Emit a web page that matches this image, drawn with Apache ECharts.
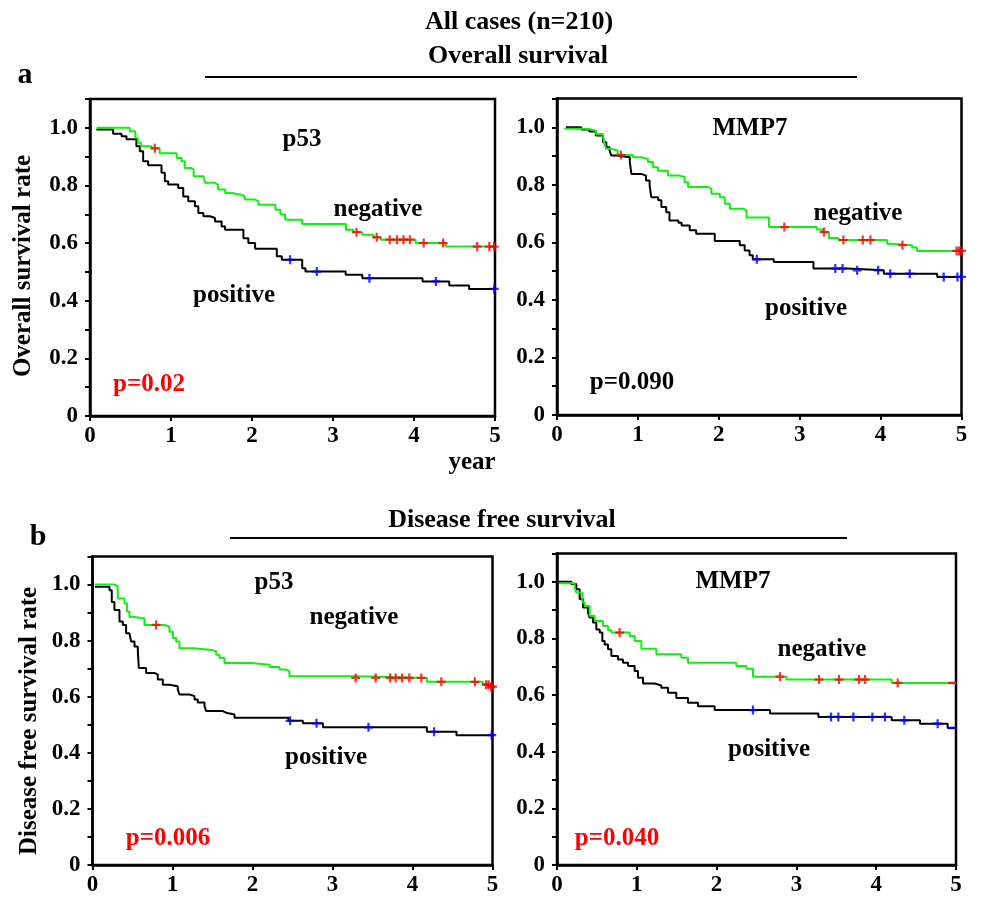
<!DOCTYPE html>
<html><head><meta charset="utf-8">
<script src="https://cdn.jsdelivr.net/npm/echarts@6/dist/echarts.min.js"></script>
<style>html,body{margin:0;padding:0;background:#fff}#c{width:981px;height:897px}</style>
</head><body><div id="c"></div>
<script>
// ---------- DATA (Kaplan-Meier step curves: time in years, survival rate) ----------
// a-left: p53, overall survival
const osP53NegT = [0.08,0.49,0.56,0.59,0.63,0.76,0.86,1.07,1.13,1.17,1.25,1.28,1.40,1.42,1.54,1.58,1.67,1.75,1.87,1.91,2.04,2.08,2.29,2.35,2.41,2.62,3.16,3.25,3.36,3.50,3.59,4.02,4.39,5.00];
const osP53NegS = [1.000,0.988,0.965,0.948,0.936,0.929,0.912,0.895,0.884,0.861,0.855,0.832,0.826,0.809,0.803,0.786,0.774,0.768,0.762,0.751,0.745,0.733,0.716,0.699,0.681,0.666,0.646,0.638,0.629,0.620,0.612,0.600,0.588,0.588];
const osP53PosT = [0.08,0.285,0.39,0.45,0.573,0.615,0.656,0.718,0.883,0.924,0.965,1.089,1.151,1.213,1.295,1.337,1.399,1.481,1.543,1.625,1.667,1.894,1.955,2.038,2.306,2.368,2.62,2.66,3.156,3.362,4.105,4.435,4.68,5.00];
const osP53PosS = [0.994,0.979,0.971,0.960,0.936,0.919,0.884,0.870,0.844,0.815,0.803,0.791,0.762,0.745,0.728,0.704,0.693,0.687,0.675,0.658,0.646,0.617,0.600,0.580,0.554,0.542,0.513,0.501,0.490,0.478,0.467,0.453,0.441,0.441];
const osP53NegCens = [0.80,3.29,3.54,3.70,3.79,3.87,3.95,4.12,4.36,4.78,4.93,4.99];
const osP53PosCens = [2.47,2.80,3.45,4.27,4.99];

// a-right: MMP7, overall survival
const osMmpNegT = [0.09,0.36,0.42,0.48,0.566,0.587,0.608,0.67,0.75,0.938,1.041,1.124,1.186,1.248,1.372,1.516,1.578,1.62,1.867,1.909,2.012,2.074,2.136,2.302,2.343,2.62,3.21,3.28,3.36,3.48,4.08,4.12,4.39,4.45,5.00];
const osMmpNegS = [0.995,0.992,0.988,0.977,0.971,0.942,0.925,0.919,0.904,0.896,0.890,0.879,0.861,0.849,0.832,0.827,0.809,0.792,0.786,0.769,0.757,0.734,0.717,0.711,0.686,0.653,0.645,0.636,0.615,0.608,0.595,0.590,0.582,0.570,0.570];
const osMmpPosT = [0.11,0.30,0.40,0.48,0.57,0.61,0.65,0.67,0.73,0.90,0.92,1.04,1.10,1.145,1.165,1.25,1.29,1.35,1.39,1.50,1.54,1.64,1.72,1.95,2.26,2.32,2.38,2.42,2.68,3.17,3.585,4.04,4.70,5.00];
const osMmpPosS = [1.000,0.992,0.985,0.971,0.948,0.931,0.919,0.902,0.896,0.879,0.838,0.832,0.815,0.798,0.757,0.746,0.723,0.705,0.676,0.668,0.659,0.642,0.630,0.605,0.590,0.572,0.555,0.541,0.532,0.509,0.503,0.491,0.480,0.480];
const osMmpNegCens = [0.79,2.81,3.30,3.54,3.78,3.875,4.27,4.94,4.97,5.00];
const osMmpPosCens = [2.47,3.44,3.53,3.71,3.97,4.12,4.36,4.78,4.95,5.00];

// b-left: p53, disease free survival
const dfsP53NegT = [0.03,0.275,0.316,0.40,0.433,0.462,0.504,0.65,0.90,0.962,1.004,1.045,1.087,1.254,1.483,1.545,1.587,1.65,1.983,2.212,2.337,2.42,2.462,3.29,4.18,4.88,4.96,5.00];
const dfsP53NegS = [1.000,0.994,0.950,0.933,0.903,0.885,0.879,0.856,0.850,0.832,0.809,0.797,0.773,0.767,0.762,0.750,0.738,0.720,0.714,0.706,0.697,0.691,0.673,0.667,0.653,0.643,0.636,0.636];
const dfsP53PosT = [0.03,0.212,0.241,0.274,0.337,0.379,0.42,0.462,0.483,0.525,0.566,0.579,0.67,0.775,0.816,0.879,0.962,1.066,1.087,1.212,1.275,1.316,1.40,1.42,1.629,1.67,1.775,2.45,2.63,2.88,4.18,4.55,5.00];
const dfsP53PosS = [0.992,0.980,0.938,0.909,0.868,0.856,0.826,0.820,0.797,0.779,0.767,0.702,0.685,0.679,0.661,0.643,0.637,0.626,0.608,0.602,0.590,0.579,0.567,0.549,0.543,0.537,0.525,0.514,0.505,0.491,0.475,0.463,0.463];
const dfsP53NegCens = [0.795,3.29,3.54,3.72,3.79,3.87,3.96,4.11,4.36,4.78,4.92,4.95,4.98,5.00];
const dfsP53PosCens = [2.47,2.80,3.45,4.27,4.99];

// b-right: MMP7, disease free survival
const dfsMmpNegT = [0.025,0.221,0.242,0.317,0.347,0.409,0.472,0.576,0.639,0.681,0.911,0.973,1.057,1.245,1.558,1.642,2.247,2.373,2.456,2.878,4.194,5.00];
const dfsMmpNegS = [0.995,0.980,0.962,0.927,0.915,0.880,0.862,0.844,0.829,0.821,0.809,0.791,0.764,0.744,0.732,0.714,0.703,0.693,0.665,0.655,0.643,0.643];
const dfsMmpPosT = [0.025,0.18,0.242,0.284,0.326,0.388,0.409,0.451,0.493,0.535,0.568,0.597,0.639,0.681,0.764,0.827,0.89,0.973,1.015,1.078,1.224,1.307,1.391,1.495,1.642,1.767,1.976,2.669,3.275,4.194,4.549,4.896,5.00];
const dfsMmpPosS = [1.000,0.992,0.974,0.939,0.909,0.891,0.874,0.856,0.832,0.821,0.791,0.779,0.762,0.738,0.726,0.714,0.703,0.685,0.661,0.641,0.634,0.626,0.608,0.590,0.573,0.561,0.547,0.535,0.523,0.511,0.499,0.484,0.484];
const dfsMmpNegCens = [0.785,2.794,3.283,3.534,3.784,3.86,4.27];
const dfsMmpPosCens = [2.456,3.434,3.526,3.714,3.952,4.11,4.352,4.77];
const dfsMmpNegEnd = [4.95];
const dfsMmpPosEnd = [4.95];

const xTicks = [0,1,2,3,4,5];
const yTickLabels = ['0','0.2','0.4','0.6','0.8','1.0'];

// ---------- CHART ----------
const FONT = '"Liberation Serif","Times New Roman",serif';
const GREEN = '#12ee12';
const CROSS = 'path://M0,3 H8 V5 H0 Z M3,0 H5 V8 H3 Z';

function stepAt(T, S, t) {
  let v = S[0];
  for (let i = 0; i < T.length; i++) { if (T[i] <= t + 1e-9) v = S[i]; else break; }
  return v;
}
function pairs(T, S) { return T.map((t, i) => [t, S[i]]); }
function cens(T, S, C) { return C.map(t => [t, stepAt(T, S, t)]); }

const panels = [
  { box: {left: 90, top: 99, width: 405, height: 317},
    neg: [osP53NegT, osP53NegS], pos: [osP53PosT, osP53PosS], nc: osP53NegCens, pc: osP53PosCens },
  { box: {left: 557, top: 98.5, width: 404.5, height: 316.5},
    neg: [osMmpNegT, osMmpNegS], pos: [osMmpPosT, osMmpPosS], nc: osMmpNegCens, pc: osMmpPosCens },
  { box: {left: 92.5, top: 556.5, width: 400, height: 310},
    neg: [dfsP53NegT, dfsP53NegS], pos: [dfsP53PosT, dfsP53PosS], nc: dfsP53NegCens, pc: dfsP53PosCens },
  { box: {left: 557, top: 553.5, width: 399, height: 311.5},
    neg: [dfsMmpNegT, dfsMmpNegS], pos: [dfsMmpPosT, dfsMmpPosS], nc: dfsMmpNegCens, pc: dfsMmpPosCens,
    ne: dfsMmpNegEnd, pe: dfsMmpPosEnd }
];

const grids = [], xAxes = [], yAxes = [], series = [];
const labelStyle = {fontFamily: FONT, fontWeight: 'bold', fontSize: 23, color: '#000'};
panels.forEach((p, i) => {
  grids.push(Object.assign({show: true, borderColor: '#000', borderWidth: 2.5, backgroundColor: 'transparent', containLabel: false}, p.box));
  xAxes.push({
    gridIndex: i, type: 'value', min: xTicks[0], max: xTicks[xTicks.length - 1], interval: 1,
    axisLine: {show: true, onZero: false, lineStyle: {color: '#000', width: 2.5}},
    axisTick: {show: true, inside: false, length: 5, lineStyle: {color: '#000', width: 2}},
    axisLabel: Object.assign({margin: 9, formatter: v => String(Math.round(v))}, labelStyle),
    splitLine: {show: false}
  });
  yAxes.push({
    gridIndex: i, type: 'value', min: 0, max: 1.1, interval: 0.1,
    axisLine: {show: true, onZero: false, lineStyle: {color: '#000', width: 2.5}},
    axisTick: {show: true, inside: false, length: 5, lineStyle: {color: '#000', width: 2}},
    axisLabel: Object.assign({margin: 12, formatter: v => {
      const k = Math.round(v * 10);
      if (k % 2 !== 0 || k > 10) return '';
      return yTickLabels[k / 2];
    }}, labelStyle),
    splitLine: {show: false}
  });
  series.push({type: 'line', xAxisIndex: i, yAxisIndex: i, step: 'end', symbol: 'none',
    data: pairs(p.pos[0], p.pos[1]), lineStyle: {color: '#000', width: 2}, z: 2, animation: false});
  series.push({type: 'line', xAxisIndex: i, yAxisIndex: i, step: 'end', symbol: 'none',
    data: pairs(p.neg[0], p.neg[1]), lineStyle: {color: GREEN, width: 2}, z: 3, animation: false});
  series.push({type: 'scatter', xAxisIndex: i, yAxisIndex: i, symbol: CROSS, symbolSize: 9, clip: false,
    data: cens(p.neg[0], p.neg[1], p.nc), itemStyle: {color: '#ff0000'}, z: 5, animation: false});
  series.push({type: 'scatter', xAxisIndex: i, yAxisIndex: i, symbol: CROSS, symbolSize: 9, clip: false,
    data: cens(p.pos[0], p.pos[1], p.pc), itemStyle: {color: '#0000ff'}, z: 5, animation: false});
  if (p.ne) {
    series.push({type: 'scatter', xAxisIndex: i, yAxisIndex: i, symbol: 'rect', symbolSize: [8, 2.5], clip: false,
      data: cens(p.neg[0], p.neg[1], p.ne), itemStyle: {color: '#ff0000'}, z: 5, animation: false});
    series.push({type: 'scatter', xAxisIndex: i, yAxisIndex: i, symbol: 'rect', symbolSize: [8, 2.5], clip: false,
      data: cens(p.pos[0], p.pos[1], p.pe), itemStyle: {color: '#0000ff'}, z: 5, animation: false});
  }
});

function txt(text, x, y, size, color, rot) {
  return {type: 'text', x: x, y: y, rotation: rot || 0, z: 10,
    style: {text: text, textAlign: 'center', textVerticalAlign: 'middle',
      font: 'bold ' + size + 'px ' + FONT, fill: color || '#000'}};
}
function hline(x1, x2, y) {
  return {type: 'line', z: 10, shape: {x1: x1, y1: y, x2: x2, y2: y}, style: {stroke: '#000', lineWidth: 2}};
}

const graphic = [
  txt('All cases (n=210)', 519, 22, 26),
  txt('Overall survival', 518, 56, 26),
  hline(205, 857, 77),
  txt('a', 25, 75, 30),
  txt('Overall survival rate', 24, 266, 25, null, Math.PI / 2),
  txt('p53', 302, 140, 25),
  txt('negative', 378, 210, 25),
  txt('positive', 234, 296, 25),
  txt('p=0.02', 149, 385, 25, '#ff0000'),
  txt('year', 472, 463, 25),
  txt('MMP7', 750, 129, 25),
  txt('negative', 858, 214, 25),
  txt('positive', 806, 309, 25),
  txt('p=0.090', 632, 383, 25),
  txt('Disease free survival', 502, 520, 26),
  hline(230, 847, 538),
  txt('b', 38, 537, 30),
  txt('Disease free survival rate', 30, 721, 25, null, Math.PI / 2),
  txt('p53', 274, 583, 25),
  txt('negative', 354, 618, 25),
  txt('positive', 326, 758, 25),
  txt('p=0.006', 168, 839, 25, '#ff0000'),
  txt('MMP7', 733, 582, 25),
  txt('negative', 822, 650, 25),
  txt('positive', 769, 750, 25),
  txt('p=0.040', 617, 839, 25, '#ff0000')
];

const chart = echarts.init(document.getElementById('c'), null, {renderer: 'canvas'});
chart.setOption({
  animation: false,
  backgroundColor: '#fff',
  grid: grids, xAxis: xAxes, yAxis: yAxes, series: series, graphic: graphic
});
</script></body></html>
